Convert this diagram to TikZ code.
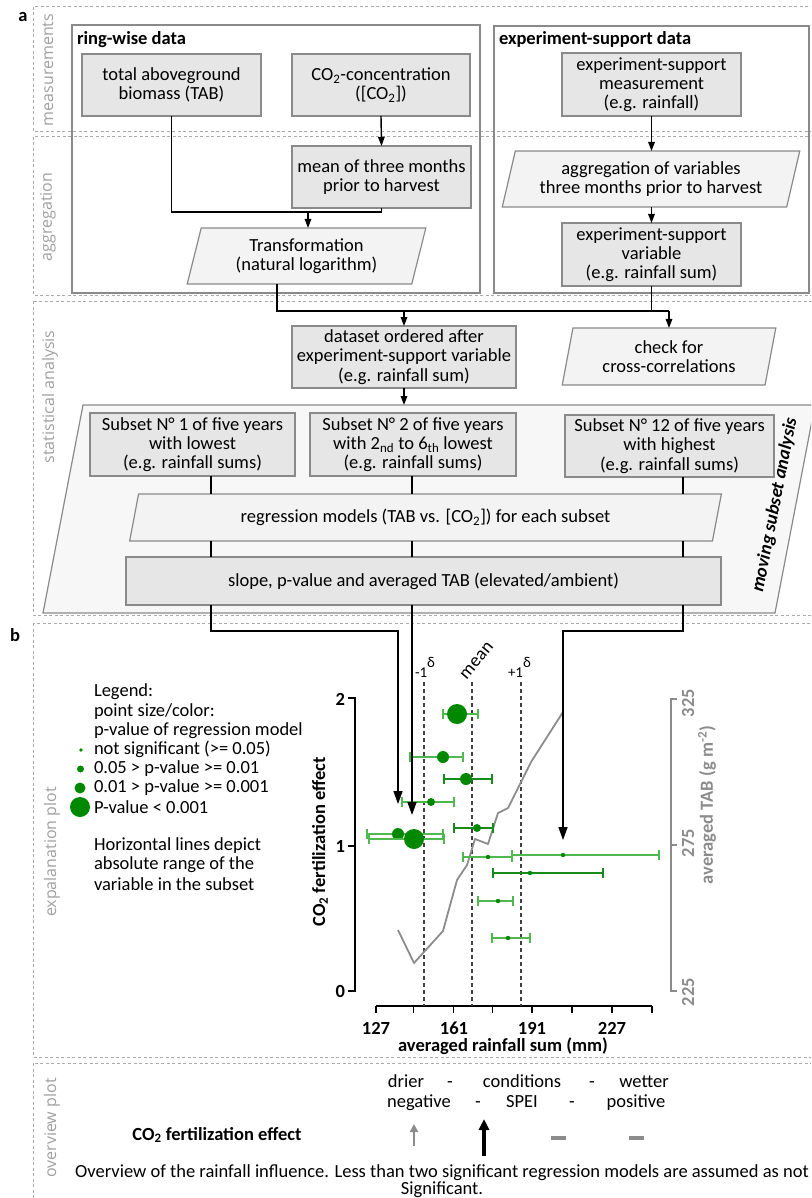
\documentclass[tikz,border=0pt]{standalone}
\usepackage{fontspec}
\setmainfont{Carlito}
\newfontfamily\sidefont{Open Sans}
\usetikzlibrary{arrows.meta,shapes.geometric,calc}
\definecolor{boxfill}{HTML}{E6E6E6}
\definecolor{boxline}{HTML}{8A8A8A}
\definecolor{parafill}{HTML}{F3F3F3}
\definecolor{msafill}{HTML}{F7F7F7}
\definecolor{bandline}{HTML}{ABABAB}
\definecolor{sidegray}{HTML}{A0A0A0}
\definecolor{dotgreen}{HTML}{008800}
\definecolor{barlight}{HTML}{4FB84F}
\definecolor{bardark}{HTML}{1A8A1A}
\definecolor{tabgray}{HTML}{8C8C8C}
\definecolor{dashgray}{HTML}{404040}
\newcommand\mainfs{\fontsize{18.5pt}{19.2pt}\selectfont}
\newcommand\smallfs{\fontsize{15pt}{15pt}\selectfont}
\newcommand\sidefs{\sidefont\fontsize{16pt}{16pt}\selectfont}
\begin{document}
\begin{tikzpicture}[x=1pt,y=-1pt,
  every node/.style={font=\mainfs, inner sep=0pt, outer sep=0pt},
  band/.style={draw=bandline, line width=1pt, dash pattern=on 3pt off 2.5pt},
  sidelabel/.style={text=sidegray, rotate=90, font=\sidefs},
  container/.style={draw=boxline, line width=1.3pt},
  gbox/.style={draw=boxline, fill=boxfill, line width=1.3pt, align=center},
  para/.style={trapezium, trapezium stretches=true, draw=boxline, fill=parafill, line width=1.2pt, align=center},
  conn/.style={draw=black, line width=1.4pt},
  arr/.style={conn, -{Triangle[length=9pt,width=6.5pt]}},
  bigarr/.style={conn, -{Triangle[length=13pt,width=9pt]}},
  panel/.style={font=\mainfs\bfseries},
  boldlbl/.style={font=\mainfs\bfseries},
  errbar/.style={line width=1.2pt},
  axisline/.style={line width=1.7pt},
  vdash/.style={draw=dashgray, line width=1.2pt, dash pattern=on 4pt off 3pt},
  word/.style={anchor=base},
]
\useasboundingbox (0,0) rectangle (811,1198);
\clip (0,0) rectangle (811,1198);

% ---------- bands
\draw[band] (33,7) rectangle (840,132);
\draw[band] (33,137) rectangle (840,295);
\draw[band] (33,301) rectangle (840,615);
\draw[band] (33,623) rectangle (840,1057);
\draw[band] (33,1063) rectangle (840,1240);

\node[panel] (pa) at (23,17) {a};
\node[panel] (pb) at (15,635) {b};

\node[sidelabel] (s1) at (48,70) {measurements};
\node[sidelabel] (s2) at (48,217) {aggregation};
\node[sidelabel] (s3) at (50,397) {statistical analysis};
\node[sidelabel] (s4) at (52,852) {expalanation plot};
\node[sidelabel] (s5) at (52,1128) {overview plot};

% ---------- containers
\node[container, minimum width=408pt, minimum height=268pt] (ring) at (276,159) {};
\node[boldlbl, anchor=west] (ringt) at (77,40) {ring-wise data};
\node[container, minimum width=315pt, minimum height=267pt] (esd) at (651.5,159.5) {};
\node[boldlbl, anchor=west] (esdt) at (499,39) {experiment-support data};

% ---------- ring-wise data
\node[gbox, minimum width=179pt, minimum height=62pt] (tab) at (171.5,85) {total aboveground\\biomass (TAB)};
\node[gbox, minimum width=178pt, minimum height=62pt] (co2) at (381,85) {CO\textsubscript{2}-concentration\\([CO\textsubscript{2}])};
\node[gbox, minimum width=179pt, minimum height=62pt] (mean) at (381.5,177) {mean of three months\\prior to harvest};
\node[para, trapezium left angle=75, trapezium right angle=105, minimum width=239pt, minimum height=56pt] (trans) at (306.5,256) {Transformation\\(natural logarithm)};

% ---------- experiment-support data
\node[gbox, minimum width=179pt, minimum height=63pt] (esm) at (651.5,84.5) {experiment-support\\measurement\\(e.g. rainfall)};
\node[para, trapezium left angle=73, trapezium right angle=107, minimum width=298pt, minimum height=56pt] (agg) at (651,179) {aggregation of variables\\three months prior to harvest};
\node[gbox, minimum width=179pt, minimum height=63pt] (esv) at (651.5,254.5) {experiment-support\\variable\\(e.g. rainfall sum)};

\draw[arr] (co2.south) -- (mean.north);
\coordinate (j1) at (308,212);
\draw[conn] (tab.south) |- (j1);
\draw[conn] (mean.south) |- (j1);
\draw[arr] (j1) -- (j1 |- trans.north);
\draw[arr] (esm.south) -- (esm.south |- agg.north);
\draw[arr] (agg.south -| esv.north) -- (esv.north);

% ---------- statistical analysis
\node[gbox, minimum width=224pt, minimum height=62pt] (ds) at (404,357) {dataset ordered after\\experiment-support variable\\(e.g. rainfall sum)};
\node[para, trapezium left angle=77, trapezium right angle=103, minimum width=214pt, minimum height=57pt] (chk) at (669,356.5) {check for\\cross-correlations};
\coordinate (colT) at (277,0);
\coordinate (j2) at (404,311);
\coordinate (j3) at (669,311);
\draw[conn] (trans.south -| colT) |- (j3);
\draw[conn] (esv.south) -- (esv.south |- j3);
\draw[arr] (j2) -- (ds.north);
\draw[arr] (j3) -- (j3 |- chk.north);

% moving subset analysis frame (parallelogram drawn from the node's corners)
\node[minimum width=772pt, minimum height=208pt] (msa) at (429,509) {};
\filldraw[draw=boxline, fill=msafill, line width=1.2pt]
  (msa.south west) -- ($(msa.north west)+(40,0)$) -- (msa.north east) -- ($(msa.south east)+(-40,0)$) -- cycle;
\draw[arr] (ds.south) -- (ds.south |- msa.north);
\node[font=\mainfs\bfseries\itshape, rotate=79] (msal) at (775,505) {moving subset analysis};

\node[gbox, minimum width=205pt, minimum height=63pt] (sub1) at (192.5,444.5) {Subset N° 1 of five years\\with lowest\\(e.g. rainfall sums)};
\node[gbox, minimum width=206pt, minimum height=63pt] (sub2) at (413,444.5) {Subset N° 2 of five years\\with 2\textsubscript{nd} to 6\textsubscript{th} lowest\\(e.g. rainfall sums)};
\node[gbox, minimum width=209pt, minimum height=62pt] (sub12) at (669.5,446) {Subset N° 12 of five years\\with highest\\(e.g. rainfall sums)};
\node[para, trapezium left angle=71, trapezium right angle=109, minimum width=595pt, minimum height=47pt] (reg) at (425.5,517.5) {regression models (TAB vs. [CO\textsubscript{2}]) for each subset};
\node[gbox, minimum width=595pt, minimum height=48pt] (slope) at (423.5,581) {slope, p-value and averaged TAB (elevated/ambient)};

\coordinate (c1) at (211,0);
\coordinate (c2) at (412,0);
\coordinate (c3) at (683,0);
\draw[conn] (sub1.south -| c1) -- (reg.north -| c1);
\draw[conn] (sub2.south -| c2) -- (reg.north -| c2);
\draw[conn] (sub12.south -| c3) -- (reg.north -| c3);
\foreach \c in {c1,c2,c3} \draw[conn] (reg.south -| \c) -- (slope.north -| \c);

% ---------- explanation plot: legend
\node[anchor=west] (lg1) at (94,692) {Legend:};
\node[anchor=west] (lg2) at (94,711.2) {point size/color:};
\node[anchor=west] (lg3) at (94,730.4) {p-value of regression model};
\node[anchor=west] (lg4) at (94,749.6) {not significant (>= 0.05)};
\node[anchor=west] (lg5) at (94,768.8) {0.05 > p-value >= 0.01};
\node[anchor=west] (lg6) at (94,788) {0.01 > p-value >= 0.001};
\node[anchor=west] (lg7) at (94,807.2) {P-value < 0.001};
\node[anchor=west] (lg8) at (94,845.6) {Horizontal lines depict};
\node[anchor=west] (lg9) at (94,864.8) {absolute range of the};
\node[anchor=west] (lg10) at (94,884) {variable in the subset};
\fill[dotgreen] (81,750) circle (1.8pt);
\fill[dotgreen] (80.5,769) circle (3.5pt);
\fill[dotgreen] (80,788) circle (5.5pt);
\fill[dotgreen] (80,807) circle (10pt);

% ---------- plot axes
\draw[axisline] (348,698) -- (355,698) -- (355,991) -- (348,991);
\draw[axisline] (348,846) -- (355,846);
\node[boldlbl, anchor=east] (y2) at (345,699) {2};
\node[boldlbl, anchor=east] (y1) at (345,846) {1};
\node[boldlbl, anchor=east] (y0) at (345,991) {0};
\node[boldlbl, rotate=90] (ylab) at (320,842) {CO\textsubscript{2} fertilization effect};

\draw[axisline, tabgray] (677,699) -- (671,699) -- (671,991) -- (677,991);
\draw[axisline, tabgray] (671,845) -- (677,845);
\node[boldlbl, text=tabgray, rotate=90] (r325) at (688,703) {325};
\node[boldlbl, text=tabgray, rotate=90] (r275) at (688,843) {275};
\node[boldlbl, text=tabgray, rotate=90] (r225) at (688,992) {225};
\node[boldlbl, text=tabgray, rotate=90] (rlab) at (707,805) {averaged TAB (g m\textsuperscript{-2})};

\draw[axisline] (376,1006) -- (652,1006);
\foreach \x in {376,413.5,453.5,492.5,532,572,612,652} \draw[axisline] (\x,1006) -- (\x,1013);
\node[boldlbl] (x127) at (376,1028) {127};
\node[boldlbl] (x161) at (454,1028) {161};
\node[boldlbl] (x191) at (532,1028) {191};
\node[boldlbl] (x227) at (612,1028) {227};
\node[boldlbl] (xlab) at (503,1046) {averaged rainfall sum (mm)};

\foreach \x in {424,472,521} \draw[vdash] (\x,682) -- (\x,1006);
\node[anchor=base west, font=\smallfs] (lm1) at (415,677) {-1\raisebox{9.5pt}{δ}};
\node[rotate=50] (lmean) at (477,661) {mean};
\node[anchor=base west, font=\smallfs] (lp1) at (508,677) {+1\raisebox{9.5pt}{δ}};

% TAB line
\draw[tabgray, line width=1.8pt, line join=round] (398,930) -- (414,963) -- (443,931) -- (457,880) -- (467,865) -- (475,839) -- (488,844) -- (498,813) -- (508,808) -- (531,762) -- (563,712);

% error bars and points
\foreach \px/\py/\r/\xa/\xb/\col in {
  457/714/10/443/478/barlight,
  443/757/6/410/463/barlight,
  466/779/6/444/492/bardark,
  431/802/4/402/454/barlight,
  477/828/4/454/493/bardark,
  398/834/6/367/443/barlight,
  414/839/10/369/444/barlight,
  488/857/2.2/463/512/barlight,
  563/855/2.2/512/659/barlight,
  530/873/2.2/493/603/bardark,
  498/901/2.2/478/513/barlight,
  508/938/2.2/492/530/barlight}{
  \draw[errbar, \col] (\xa,\py) -- (\xb,\py) (\xa,\py-5) -- (\xa,\py+5) (\xb,\py-5) -- (\xb,\py+5);
  \fill[dotgreen] (\px,\py) circle (\r pt);
}

% arrows from the flow chart into the plot
\coordinate (k1) at (0,631);
\coordinate (t1) at (398,804);
\coordinate (t2) at (412,815);
\coordinate (t3) at (563,840);
\draw[bigarr] (slope.south -| c1) |- (k1 -| t1) -- (t1);
\draw[bigarr] (slope.south -| c2) -- (t2);
\draw[bigarr] (slope.south -| c3) |- (k1 -| t3) -- (t3);

% ---------- overview plot
\node[word] (o1) at (406,1087) {drier};
\node[word] (o2) at (450,1087) {-};
\node[word] (o3) at (522,1087) {conditions};
\node[word] (o4) at (592,1087) {-};
\node[word] (o5) at (644,1087) {wetter};
\node[word] (o6) at (419,1107) {negative};
\node[word] (o7) at (478,1107) {-};
\node[word] (o8) at (522,1107) {SPEI};
\node[word] (o9) at (572,1107) {-};
\node[word] (o10) at (636,1107) {positive};
\node[boldlbl] (ofe) at (217,1135) {CO\textsubscript{2} fertilization effect};
\coordinate (oa1s) at (414,1146);
\coordinate (oa1e) at (414,1124);
\coordinate (oa2s) at (484,1156);
\coordinate (oa2e) at (484,1119);
\draw[tabgray, line width=2.5pt, -{Triangle[length=8pt,width=8pt]}] (oa1s) -- (oa1e);
\draw[black, line width=3.5pt, -{Triangle[length=11pt,width=10pt]}] (oa2s) -- (oa2e);
\draw[tabgray, line width=4.5pt] (551,1138) -- (566,1138);
\draw[tabgray, line width=4.5pt] (629,1138) -- (644,1138);
\node (ot1) at (442,1173) {Overview of the rainfall influence. Less than two significant regression models are assumed as not};
\node (ot2) at (442,1190) {Significant.};
\end{tikzpicture}
\end{document}
